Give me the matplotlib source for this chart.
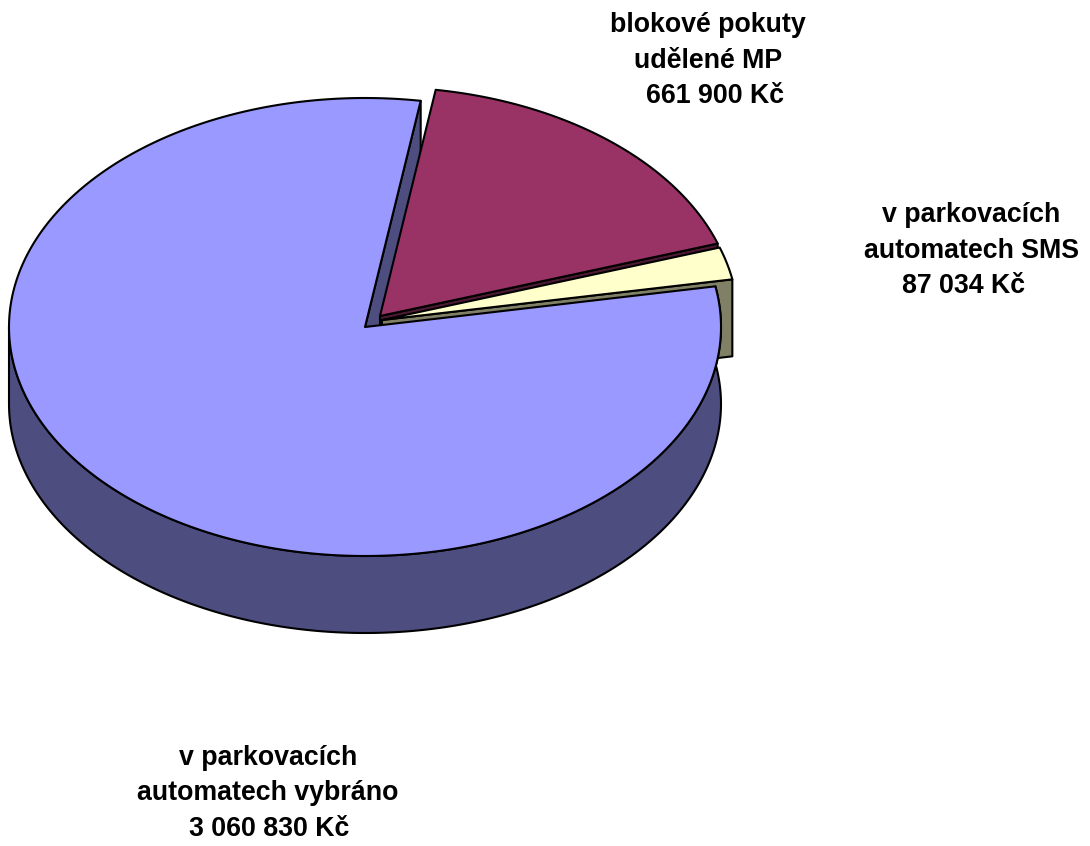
import numpy as np
import matplotlib
matplotlib.use('Agg')
import matplotlib.pyplot as plt
from matplotlib.patches import Polygon

plt.rcParams['font.family'] = ['Liberation Sans', 'DejaVu Sans']

# values in Kc, order is clockwise from the top
names = ['blokové pokuty\nudělené MP', 'v parkovacích\nautomatech SMS', 'v parkovacích\nautomatech vybráno']
values = [661900, 87034, 3060830]
top_colors = ['#993366', '#FFFFCC', '#9999FF']
side_colors = ['#4D1933', '#808066', '#4D4D80']

# exploded slice centres, in pixels
centers = [(380, 316), (382, 320), (365, 327)]
label_pos = [(708, 25), (971, 215), (268, 758)]
value_x = [715, 964, 269]

START = 81.0
RX, RY = 356, 229
DEPTH = 77
LINE = 1.5
LINE_STEP = 35.5
FONT_SIZE = 19.3


def fmt_value(v):
    return f"{v:,}".replace(',', ' ') + ' Kč'


def arc(center, t1, t2, n=200):
    t = np.radians(np.linspace(t1, t2, n))
    return np.column_stack([center[0] + RX * np.cos(t), center[1] - RY * np.sin(t)])


def draw_poly(ax, pts, color):
    ax.add_patch(Polygon(pts, closed=True, facecolor=color, edgecolor='black',
                         linewidth=LINE, joinstyle='round'))


def radial_wall(ax, center, t, color):
    edge = arc(center, t, t, 1)[0]
    pts = [center, edge, (edge[0], edge[1] + DEPTH), (center[0], center[1] + DEPTH)]
    draw_poly(ax, pts, color)


fig = plt.figure(figsize=(10.9, 8.46), dpi=100)
ax = fig.add_axes([0, 0, 1, 1])
ax.set_xlim(0, 1090)
ax.set_ylim(846, 0)
ax.axis('off')

# slice angles come from the values
total = sum(values)
sweeps = [v / total * 360 for v in values]
red_end = START - sweeps[0]
yellow_end = red_end - sweeps[1]
big_end = yellow_end - sweeps[2]

# cut face of the big slice, the others go over it
radial_wall(ax, centers[2], START, side_colors[2])

radial_wall(ax, centers[0], red_end, side_colors[0])
draw_poly(ax, [centers[0]] + list(arc(centers[0], START, red_end)), top_colors[0])

radial_wall(ax, centers[1], yellow_end, side_colors[1])
draw_poly(ax, [centers[1]] + list(arc(centers[1], red_end, yellow_end)), top_colors[1])

# outer wall of the big slice
front = arc(centers[2], yellow_end, -180)
front_low = front + np.array([0, DEPTH])
draw_poly(ax, list(front) + list(front_low[::-1]), side_colors[2])
draw_poly(ax, [centers[2]] + list(arc(centers[2], yellow_end, big_end, 400)), top_colors[2])

for name, val, pos, vx in zip(names, values, label_pos, value_x):
    lines = name.split('\n')
    for i, line in enumerate(lines):
        ax.text(pos[0], pos[1] + i * LINE_STEP, line, ha='center', va='center',
                fontsize=FONT_SIZE, fontweight='bold', color='black')
    ax.text(vx, pos[1] + len(lines) * LINE_STEP, fmt_value(val), ha='center', va='center',
            fontsize=FONT_SIZE, fontweight='bold', color='black')

fig.savefig('out.png', dpi=100)
